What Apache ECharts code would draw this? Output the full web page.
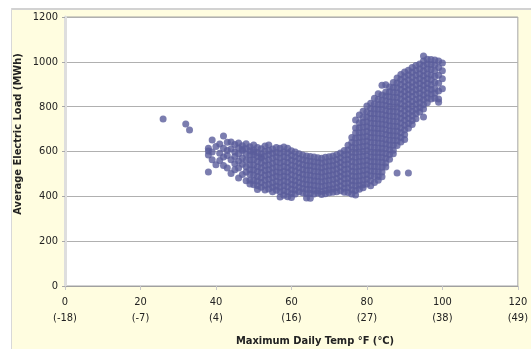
<!DOCTYPE html>
<html>
<head>
<meta charset="utf-8">
<script src="https://cdn.jsdelivr.net/npm/echarts@6/dist/echarts.min.js"></script>
<style>
html,body{margin:0;padding:0;background:#fff;}
#chart{width:531px;height:349px;}
</style>
</head>
<body>
<div id="chart"></div>
<script>
// Maximum daily temperature (°F) for each column of observations
const temps = [26,32,33,38,39,40,41,42,43,44,45,46,47,48,49,50,51,52,53,54,55,56,57,58,59,60,61,62,63,64,65,66,67,68,69,70,71,72,73,74,75,76,77,78,79,80,81,82,83,84,85,86,87,88,89,90,91,92,93,94,95,96,97,98,99,100];
// Average electric load (MWh) observed on days with that max temperature
const loads = [
  [745],
  [723],
  [696],
  [508,584,602,615],
  [651,598,563],
  [622,541],
  [592,633,560],
  [669,615,575,538],
  [526,604,641,582],
  [642,611,563,502],
  [631,598,578,545,519],
  [638,616,526,590,558,482],
  [626,604,571,543,497,610],
  [635,612,508,561,532,589,470],
  [621,603,584,562,541,519,498,472,455],
  [629,607,586,563,540,517,495,471,452,598],
  [618,596,577,555,532,511,489,468,447,430],
  [612,590,571,549,528,506,483,462,441,575],
  [624,601,580,558,537,515,494,472,450,428],
  [629,605,585,563,540,519,497,476,454,433],
  [611,592,570,548,526,505,483,461,440,420],
  [618,596,575,553,531,509,488,466,445,427],
  [615,593,571,550,528,507,485,463,442,421,397],
  [620,598,577,554,533,511,490,468,447,425,405],
  [615,594,572,551,529,508,486,464,443,421,398],
  [603,582,561,539,518,496,474,453,432,412,395],
  [598,577,556,534,513,491,470,449,428,410],
  [590,569,548,527,505,484,462,441,421],
  [584,563,542,520,499,477,456,435,416],
  [580,560,538,517,495,474,453,432,412,393],
  [578,557,536,515,494,472,451,430,413,392],
  [575,554,533,512,490,469,448,427,410],
  [572,552,531,510,488,467,446,425,415],
  [570,549,528,507,486,465,444,423,408],
  [574,553,532,511,490,468,447,426,412],
  [577,556,535,514,493,472,450,430,416],
  [580,559,538,517,496,475,454,433,418],
  [585,564,543,522,501,480,459,438,420],
  [593,572,551,530,509,488,467,446,425],
  [605,584,562,541,520,499,478,457,436,418],
  [628,607,586,564,543,522,501,480,459,438,417],
  [662,640,619,597,576,555,533,512,491,470,449,428,410],
  [740,705,682,660,638,617,595,574,552,531,510,489,468,447,426,406],
  [763,728,706,684,662,641,619,598,576,555,533,512,491,470,450,432],
  [780,752,730,708,686,665,643,622,600,579,557,536,515,494,473,452,438],
  [803,776,754,732,710,689,667,646,624,603,581,560,539,518,497,476,455],
  [815,792,770,748,727,705,684,662,641,619,598,576,555,534,513,492,470,447],
  [838,812,790,768,747,725,704,682,661,639,618,596,575,554,533,512,490,462],
  [858,832,810,788,767,745,724,702,681,659,638,616,595,574,553,532,510,489,472],
  [896,852,830,808,787,765,744,722,701,679,658,636,615,594,573,552,530,508,487],
  [865,848,826,805,783,762,740,719,697,676,654,633,612,591,570,549,531,898],
  [888,866,844,822,801,779,758,736,715,693,672,650,629,608,587,565],
  [908,886,864,842,821,799,778,756,735,713,692,670,649,628,606,590],
  [928,906,884,862,841,819,798,776,755,733,712,690,669,648,627,504],
  [943,921,899,877,856,834,813,791,770,748,727,705,684,663,642],
  [955,933,911,889,868,846,825,803,782,760,739,717,696,675,653],
  [963,941,919,897,876,854,833,811,790,768,747,725,704,504],
  [975,953,931,909,888,866,845,823,802,780,759,738,720],
  [984,962,940,918,897,875,854,832,811,789,768,746],
  [990,968,946,924,903,881,860,838,817,795,776],
  [1026,1004,982,960,938,917,895,874,852,831,809,790,754],
  [1012,990,968,946,925,903,882,860,839,818],
  [1010,988,966,941,920,898,877,856,834],
  [1008,986,960,935,908,880,860,838],
  [1004,975,940,905,870,834,820],
  [995,960,925,880]
];
// Axis tick labels
const fTicks = [0,20,40,60,80,100,120];
const cTicks = ['-18','-7','4','16','27','38','49'];
const yTicks = [0,200,400,600,800,1000,1200];
const xTitle = 'Maximum Daily Temp °F (°C)';
const yTitle = 'Average Electric Load (MWh)';

const points = [];
temps.forEach((t, i) => loads[i].forEach(v => points.push([t, v])));

const FONT = '"DejaVu Sans Condensed", "Liberation Sans", sans-serif';
const chart = echarts.init(document.getElementById('chart'), null, {renderer: 'canvas'});
chart.setOption({
  animation: false,
  backgroundColor: '#ffffff',
  graphic: [
    {type: 'rect', z: -10, silent: true, shape: {x: 12, y: 10, width: 519, height: 339}, style: {fill: '#fffde0'}},
    {type: 'rect', z: -10, silent: true, shape: {x: 12, y: 8, width: 519, height: 2}, style: {fill: '#d2d2d2'}},
    {type: 'rect', z: -10, silent: true, shape: {x: 11, y: 8, width: 1, height: 341}, style: {fill: '#d8d8d8'}},
    {type: 'text', z: 10, x: 18, y: 134, rotation: Math.PI / 2,
     style: {text: yTitle, font: 'bold 11px ' + FONT, fill: '#222', align: 'center', verticalAlign: 'middle'}},
    {type: 'text', z: 10, x: 315, y: 341,
     style: {text: xTitle, font: 'bold 11px ' + FONT, fill: '#222', align: 'center', verticalAlign: 'middle'}}
  ],
  grid: {left: 65, right: 12, top: 17, bottom: 63, show: true, backgroundColor: '#ffffff', borderColor: '#a4a4a4', borderWidth: 1},
  xAxis: {
    type: 'value', min: fTicks[0], max: fTicks[fTicks.length - 1], interval: 20,
    axisLine: {show: true, onZero: false, lineStyle: {color: '#a0a0a0', width: 1}},
    axisTick: {show: true, length: 4, lineStyle: {color: '#c8c8c8'}},
    splitLine: {show: false},
    axisLabel: {
      margin: 8, color: '#222', fontFamily: FONT, fontSize: 11, lineHeight: 16,
      formatter: v => v + '\n(' + cTicks[fTicks.indexOf(v)] + ')'
    }
  },
  yAxis: {
    type: 'value', min: yTicks[0], max: yTicks[yTicks.length - 1], interval: 200,
    axisLine: {show: true, onZero: false, lineStyle: {color: '#dedede', width: 3}},
    axisTick: {show: true, length: 3, lineStyle: {color: '#a8a8a8'}},
    splitLine: {show: true, lineStyle: {color: '#b0b0b0', width: 1}},
    axisLabel: {margin: 7, color: '#222', fontFamily: FONT, fontSize: 11, formatter: v => String(v)}
  },
  series: [{
    type: 'scatter',
    data: points,
    symbol: 'circle',
    symbolSize: 7,
    itemStyle: {color: '#5a5c9b', borderWidth: 0}
  }]
});
</script>
</body>
</html>
